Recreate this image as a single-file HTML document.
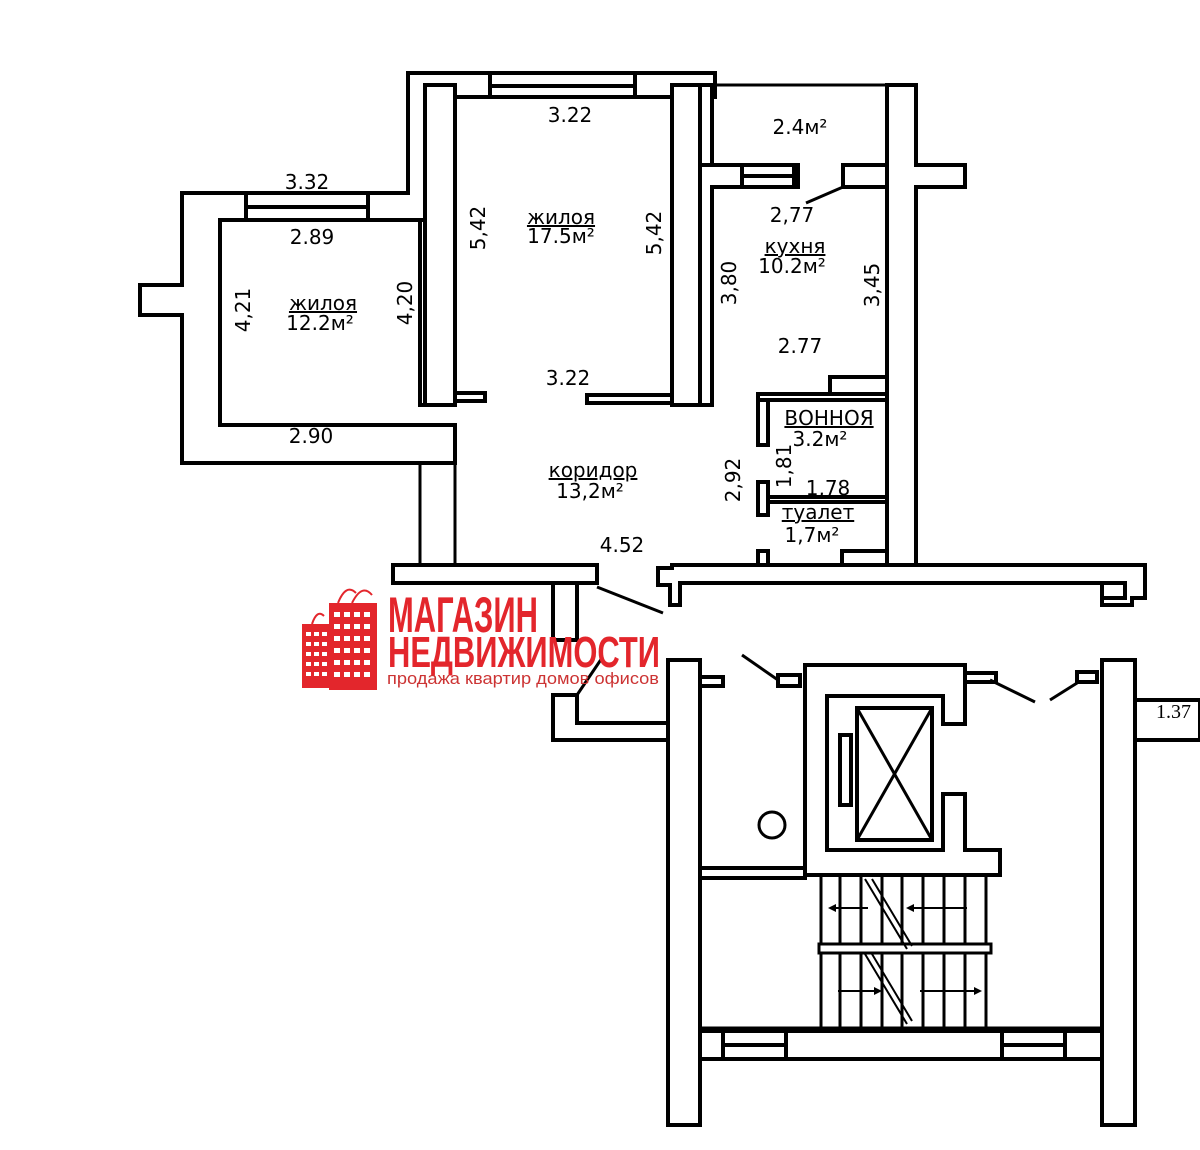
<!DOCTYPE html>
<html><head><meta charset="utf-8"><style>
html,body{margin:0;padding:0;background:#fff}
svg{display:block}
text{font-family:"DejaVu Sans","Liberation Sans",sans-serif;font-size:20px;fill:#000}
.w{fill:#fff;stroke:#000;stroke-width:4;stroke-linejoin:miter}
.t{fill:none;stroke:#000;stroke-width:3}
.r{fill:#e3262c;font-family:"Liberation Sans",sans-serif}
</style></head><body>
<svg width="1200" height="1150" viewBox="0 0 1200 1150" xmlns="http://www.w3.org/2000/svg">
<rect width="1200" height="1150" fill="#fff"/>

<path class="w" d="M182,193 H246 V220 H220 V425 H455 V463 H182 V315 H140 V285 H182 Z"/>
<rect class="w" x="246" y="193" width="122" height="14"/>
<rect class="w" x="246" y="207" width="122" height="13"/>
<path class="w" d="M368,193 H408 V73 H490 V97 H455 V220 H368 Z"/>
<rect class="w" x="425" y="85" width="30" height="320"/>
<rect class="w" x="420" y="220" width="5" height="185"/>
<rect class="w" x="490" y="73" width="145" height="13"/>
<rect class="w" x="490" y="86" width="145" height="11"/>
<rect class="w" x="635" y="73" width="80" height="24"/>
<rect class="w" x="672" y="85" width="28" height="320"/>
<rect class="w" x="455" y="393" width="30" height="8"/>
<rect class="w" x="587" y="395" width="85" height="8"/>
<path class="t" d="M420,463 V565 M455,463 V565"/>
<rect class="w" x="393" y="565" width="204" height="18"/>
<path class="w" d="M553,583 H577 V640 H553 Z"/>
<path class="w" d="M553,695 H577 V723 H668 V740 H553 Z"/>
<path class="t" d="M597,587 L663,613 M577,695 L602,658" stroke-width="2"/>

<path class="t" d="M712,85 H887" stroke-width="3"/>
<rect class="w" x="700" y="85" width="12" height="82"/>
<path class="w" d="M700,165 H742 V187 H712 V405 H700 Z"/>
<rect class="w" x="742" y="165" width="56" height="11"/>
<rect class="w" x="742" y="176" width="56" height="11"/>
<rect x="792" y="165" width="6" height="22" fill="#000"/>
<path class="w" d="M843,165 H887 V187 H843 Z"/>
<path class="t" d="M843,187 L806,203" stroke-width="2"/>
<path class="w" d="M887,85 H916 V165 H965 V187 H916 V567 H887 Z"/>
<rect class="w" x="830" y="377" width="57" height="17"/>
<rect class="w" x="758" y="394" width="129" height="6"/>
<rect class="w" x="758" y="400" width="10" height="45"/>
<rect class="w" x="768" y="497" width="119" height="5"/>
<rect class="w" x="758" y="482" width="10" height="33"/>
<rect class="w" x="758" y="551" width="10" height="16"/>
<rect class="w" x="842" y="551" width="45" height="16"/>
<path class="w" d="M672,565 H1145 V598 H1132 V605 H1102 V583 H680 V605 H670 V585 H658 V568 H672 Z"/>
<path class="w" d="M1102,583 H1125 V598 H1102 Z"/>

<rect class="w" x="668" y="660" width="32" height="465"/>
<rect class="w" x="1102" y="660" width="33" height="465"/>
<path class="w" d="M1135,700 H1200 V740 H1135 Z"/>
<rect class="w" x="700" y="677" width="23" height="9"/>
<rect class="w" x="778" y="675" width="22" height="11"/>
<path class="t" d="M742,655 L778,680" stroke-width="2"/>
<rect class="w" x="965" y="673" width="31" height="9"/>
<path class="t" d="M990,680 L1035,702 M1050,700 L1085,678" stroke-width="2"/>
<rect class="w" x="1077" y="672" width="20" height="10"/>
<path class="w" d="M805,665 H965 V724 H943 V696 H827 V850 H943 V794 H965 V850 H1000 V875 H805 Z"/>
<rect class="w" x="857" y="708" width="75" height="132" stroke-width="3"/>
<path class="t" d="M857,708 L932,840 M932,708 L857,840" stroke-width="2"/>
<rect class="w" x="840" y="735" width="11" height="70" stroke-width="3"/>
<circle cx="772" cy="825" r="13" fill="none" stroke="#000" stroke-width="3"/>
<rect class="w" x="700" y="868" width="105" height="10" stroke-width="3"/>
<g stroke="#000" stroke-width="3" fill="none">
<path d="M821,875 V1028 M840,875 V1028 M861,875 V1028 M882,875 V1028 M902,875 V1028 M923,875 V1028 M944,875 V1028 M965,875 V1028 M986,875 V1028"/>
<rect x="819" y="944" width="172" height="9" fill="#fff"/>
<path d="M865,879 L907,949 M872,879 L912,946 M865,954 L907,1024 M872,954 L912,1021" stroke-width="2"/>
<path d="M868,908 H832 M967,908 H912 M838,991 H876 M920,991 H976" stroke-width="2"/>
</g>
<g fill="#000">
<path d="M828,908 l8,-4 v8 z M906,908 l8,-4 v8 z M882,991 l-8,-4 v8 z M982,991 l-8,-4 v8 z"/>
</g>
<path class="t" d="M700,1028 H1102"/>
<rect class="w" x="700" y="1031" width="23" height="28"/>
<rect class="w" x="723" y="1031" width="63" height="14"/>
<rect class="w" x="723" y="1045" width="63" height="14"/>
<rect class="w" x="786" y="1031" width="216" height="28"/>
<rect class="w" x="1002" y="1031" width="63" height="14"/>
<rect class="w" x="1002" y="1045" width="63" height="14"/>
<rect class="w" x="1065" y="1031" width="37" height="28"/>

<text x="570" y="122" text-anchor="middle">3.22</text>
<text x="307" y="189" text-anchor="middle">3.32</text>
<text x="312" y="244" text-anchor="middle">2.89</text>
<text transform="translate(485,228) rotate(-90)" text-anchor="middle">5,42</text>
<text x="561" y="224" text-anchor="middle" text-decoration="underline">жилоя</text>
<text x="561" y="243" text-anchor="middle">17.5м²</text>
<text transform="translate(661,233) rotate(-90)" text-anchor="middle">5,42</text>
<text transform="translate(250,310) rotate(-90)" text-anchor="middle">4,21</text>
<text x="323" y="310" text-anchor="middle" text-decoration="underline">жилоя</text>
<text x="320" y="330" text-anchor="middle">12.2м²</text>
<text transform="translate(412,303) rotate(-90)" text-anchor="middle">4,20</text>
<text x="568" y="385" text-anchor="middle">3.22</text>
<text x="311" y="443" text-anchor="middle">2.90</text>
<text x="593" y="477" text-anchor="middle" text-decoration="underline">коридор</text>
<text x="590" y="498" text-anchor="middle">13,2м²</text>
<text x="622" y="552" text-anchor="middle">4.52</text>
<text transform="translate(740,480) rotate(-90)" text-anchor="middle">2,92</text>
<text transform="translate(791,466) rotate(-90)" text-anchor="middle">1,81</text>
<text x="828" y="495" text-anchor="middle">1,78</text>
<text x="818" y="519" text-anchor="middle" text-decoration="underline">туалет</text>
<text x="812" y="542" text-anchor="middle">1,7м²</text>
<text x="829" y="425" text-anchor="middle" text-decoration="underline">ВОННОЯ</text>
<text x="820" y="446" text-anchor="middle">3.2м²</text>
<text x="800" y="134" text-anchor="middle">2.4м²</text>
<text x="792" y="222" text-anchor="middle">2,77</text>
<text x="795" y="253" text-anchor="middle" text-decoration="underline">кухня</text>
<text x="792" y="273" text-anchor="middle">10.2м²</text>
<text transform="translate(736,283) rotate(-90)" text-anchor="middle">3,80</text>
<text transform="translate(879,285) rotate(-90)" text-anchor="middle">3,45</text>
<text x="800" y="353" text-anchor="middle">2.77</text>
<text x="1156" y="718" style="font-family:'Liberation Serif',serif">1.37</text>

<g fill="#e3262c">
<rect x="302" y="624" width="32" height="64"/>
<rect x="329" y="603" width="48" height="87"/>
<path d="M312,624 q5,-15 12,-8 M338,603 q8,-20 18,-10 M352,603 q10,-20 20,-8" stroke="#e3262c" stroke-width="2" fill="none"/>
</g>
<g fill="#fff">
<rect x="306" y="632" width="5" height="4"/><rect x="314" y="632" width="5" height="4"/><rect x="322" y="632" width="5" height="4"/>
<rect x="306" y="642" width="5" height="4"/><rect x="314" y="642" width="5" height="4"/><rect x="322" y="642" width="5" height="4"/>
<rect x="306" y="652" width="5" height="4"/><rect x="314" y="652" width="5" height="4"/><rect x="322" y="652" width="5" height="4"/>
<rect x="306" y="662" width="5" height="4"/><rect x="314" y="662" width="5" height="4"/><rect x="322" y="662" width="5" height="4"/>
<rect x="306" y="672" width="5" height="4"/><rect x="314" y="672" width="5" height="4"/><rect x="322" y="672" width="5" height="4"/>
<rect x="334" y="612" width="6" height="5"/><rect x="344" y="612" width="6" height="5"/><rect x="354" y="612" width="6" height="5"/><rect x="364" y="612" width="6" height="5"/>
<rect x="334" y="624" width="6" height="5"/><rect x="344" y="624" width="6" height="5"/><rect x="354" y="624" width="6" height="5"/><rect x="364" y="624" width="6" height="5"/>
<rect x="334" y="636" width="6" height="5"/><rect x="344" y="636" width="6" height="5"/><rect x="354" y="636" width="6" height="5"/><rect x="364" y="636" width="6" height="5"/>
<rect x="334" y="648" width="6" height="5"/><rect x="344" y="648" width="6" height="5"/><rect x="354" y="648" width="6" height="5"/><rect x="364" y="648" width="6" height="5"/>
<rect x="334" y="660" width="6" height="5"/><rect x="344" y="660" width="6" height="5"/><rect x="354" y="660" width="6" height="5"/><rect x="364" y="660" width="6" height="5"/>
<rect x="334" y="672" width="6" height="5"/><rect x="344" y="672" width="6" height="5"/><rect x="354" y="672" width="6" height="5"/><rect x="364" y="672" width="6" height="5"/>
</g>
<text class="r" x="388" y="632" style="font-size:50px;font-weight:bold" textLength="150" lengthAdjust="spacingAndGlyphs">МАГАЗИН</text>
<text class="r" x="388" y="667" style="font-size:44px;font-weight:bold" textLength="272" lengthAdjust="spacingAndGlyphs">НЕДВИЖИМОСТИ</text>
<text class="r" x="387" y="684" style="font-size:17px;fill:#c33" textLength="272" lengthAdjust="spacingAndGlyphs">продажа  квартир  домов  офисов</text>
</svg>
</body></html>
